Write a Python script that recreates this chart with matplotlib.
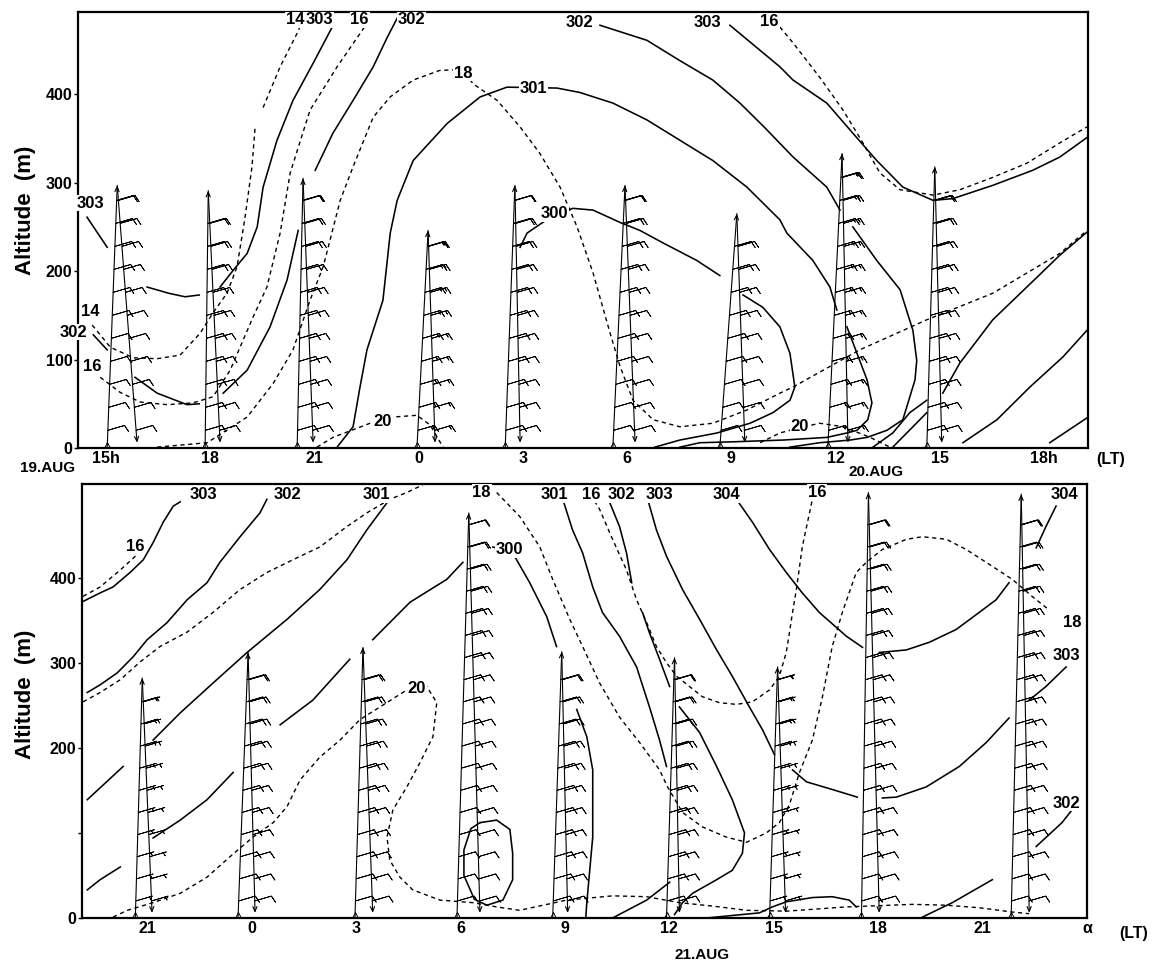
import numpy as np
import matplotlib.pyplot as plt

plt.rcParams['font.family'] = ['Liberation Sans', 'DejaVu Sans']
plt.rcParams['font.weight'] = 'bold'

# ---------------- upper panel : 19-20 Aug ----------------
top_ticks = [15, 18, 21, 24, 27, 30, 33, 36, 39, 42]
top_ticklabels = ['15h', '18', '21', '0', '3', '6', '9', '12', '15', '18h']

# potential temperature (K), solid
t303 = [[(14.45, 261), (15.03, 227)],
        [(16.18, 182), (16.80, 175), (17.27, 171), (17.68, 173)],
        [(18.28, 182), (18.66, 201), (19.06, 220), (19.35, 250), (19.52, 295), (19.92, 348),
         (20.38, 393), (20.96, 435), (21.51, 476)]]
t302 = [[(14.63, 128), (15.03, 111)],
        [(15.83, 80), (16.47, 62), (17.33, 49), (17.68, 50)],
        [(18.37, 62), (19.06, 88), (19.72, 137), (20.21, 190), (20.53, 246)],
        [(21.02, 314), (21.53, 356), (22.11, 393), (22.69, 431), (23.09, 464), (23.46, 492)]]
t301 = [[(21.65, 1), (22.11, 24), (22.31, 69), (22.51, 111), (22.97, 167), (23.18, 243), (23.38, 280),
         (23.84, 325), (24.82, 367), (25.77, 397), (26.54, 408), (27.98, 407), (28.64, 402), (29.59, 390),
         (30.57, 371), (31.52, 348), (32.47, 325), (33.45, 295), (34.40, 258), (34.60, 243), (35.35, 212),
         (35.84, 182), (36.04, 156)],
        [(36.33, 137), (36.62, 107), (36.91, 77), (37.05, 51), (36.93, 32), (36.62, 20), (36.33, 17),
         (35.75, 12), (34.49, 9), (33.04, 7), (32.10, 6), (31.52, 1)]]
t300 = [[(26.92, 227), (27.12, 243), (27.87, 263), (28.44, 271), (29.02, 269), (29.80, 255), (30.37, 246),
         (31.03, 232), (32.01, 212), (32.67, 195)],
        [(33.34, 173), (33.91, 159), (34.40, 137), (34.69, 107), (34.83, 69), (34.69, 54), (34.20, 40),
         (33.54, 28), (32.59, 17), (31.52, 9), (30.80, 1)]]
t302b = [[(29.22, 478), (30.57, 461), (31.52, 438), (32.47, 416), (33.25, 390), (33.97, 362), (34.78, 329),
          (35.75, 295), (36.13, 269)],
         [(36.50, 250), (37.19, 212), (37.86, 179), (38.23, 133), (38.34, 99), (38.29, 77), (37.94, 32),
          (37.48, 20), (36.91, 12), (36.42, 9), (35.55, 6), (34.69, 1)]]
t303b = [[(32.96, 478), (34.40, 431), (34.78, 416), (35.75, 390), (36.50, 356), (37.19, 325), (37.94, 295),
          (38.81, 280), (39.38, 282), (40.53, 297), (41.68, 314), (42.46, 329), (43.24, 351)]]
t_warm = [[(37.65, 1), (38.23, 24), (38.63, 40)],
          [(37.08, 1), (37.65, 17), (38.14, 40), (38.63, 54)],
          [(39.09, 62), (39.58, 96), (40.53, 145), (41.51, 182), (42.46, 218), (43.24, 244)],
          [(39.67, 6), (40.65, 32), (41.60, 69), (42.55, 103), (43.24, 133)],
          [(42.17, 6), (43.24, 34)]]

# specific humidity (g/kg), dashed
t14 = [[(14.60, 139), (15.12, 114), (15.78, 102), (16.47, 101), (17.13, 105), (17.71, 130), (18.08, 153),
        (18.48, 175), (18.77, 205), (19.00, 261), (19.20, 318), (19.29, 363)],
       [(19.52, 385), (20.01, 431), (20.50, 469), (20.67, 484)]]
t16 = [[(14.83, 80), (15.40, 63), (15.98, 52), (16.76, 49), (17.50, 51), (18.08, 58), (18.57, 88),
        (19.23, 148), (19.63, 182), (20.01, 243), (20.30, 311), (20.87, 382), (21.65, 431), (22.51, 480)]]
t16b = [[(34.40, 476), (34.78, 458), (35.55, 419), (36.22, 382), (36.79, 345), (37.28, 311), (37.86, 292),
         (38.81, 286), (39.58, 292), (40.53, 306), (41.51, 322), (42.46, 345), (43.24, 363)]]
t18 = [[(16.47, 1), (17.91, 6), (19.06, 35), (19.81, 73), (20.38, 111), (20.87, 167), (21.25, 205),
        (21.74, 280), (22.11, 318), (22.69, 374), (23.18, 397), (23.84, 416), (24.61, 427), (25.28, 428),
        (25.56, 412), (26.26, 393), (26.92, 363), (27.49, 333), (28.07, 295), (28.56, 250), (29.02, 198),
        (29.51, 130), (29.80, 92), (30.17, 54), (30.75, 32), (31.52, 24), (32.47, 28), (33.45, 43),
        (34.40, 62), (34.78, 69), (36.70, 111), (38.63, 145), (40.53, 175), (42.46, 220), (43.24, 246)]]
t20 = [[(21.07, 1), (21.53, 12), (22.60, 28), (22.97, 31), (23.26, 35), (23.95, 37), (24.33, 26), (24.70, 1)],
       [(33.83, 6), (34.40, 17), (34.98, 23), (35.55, 28), (36.22, 24), (37.00, 12), (37.57, 1)]]

top_labels = [('303', 14.54, 277), ('14', 14.54, 154), ('302', 14.05, 131), ('16', 14.60, 92),
              ('14', 20.45, 484), ('303', 21.15, 484), ('16', 22.30, 484), ('302', 23.80, 484),
              ('18', 25.28, 424), ('301', 27.30, 407), ('300', 27.90, 265), ('302', 28.64, 481),
              ('303', 32.30, 481), ('16', 34.10, 482), ('20', 22.97, 30), ('20', 34.98, 24)]

top_tower_base = [15.03, 17.85, 20.50, 23.95, 26.49, 29.59, 32.67, 35.78, 38.63]
top_tower_peak = [15.32, 17.94, 20.67, 24.27, 26.77, 29.94, 33.16, 36.19, 38.86]
top_tower_foot = [15.89, 18.28, 20.96, 24.47, 26.92, 30.23, 33.39, 36.36, 39.06]
top_tower_top = [297, 291, 305, 246, 297, 297, 265, 333, 318]
top_wind = [10, 10, 10, 15, 10, 10, 10, 15, 10]

# ---------------- lower panel : 20-21 Aug ----------------
bot_ticks = [21, 24, 27, 30, 33, 36, 39, 42, 45, 48]
bot_ticklabels = ['21', '0', '3', '6', '9', '12', '15', '18', '21', 'α']

b303 = [[(19.16, 372), (19.65, 382), (20.02, 389), (20.51, 406), (20.89, 421), (21.17, 441), (21.46, 465),
         (21.75, 484), (21.95, 489)]]
b302 = [[(19.28, 265), (19.65, 274), (20.14, 288), (20.60, 307), (21.00, 327), (21.57, 347), (22.15, 374),
         (22.72, 394), (23.09, 418), (23.67, 448), (24.24, 476), (24.44, 492)]]
b301 = [[(19.28, 139), (20.31, 178)],
        [(21.17, 209), (21.95, 241), (22.89, 276), (23.87, 312), (25.02, 351), (25.96, 386), (26.74, 421),
         (27.31, 456), (27.89, 488)]]
b300 = [[(19.28, 33), (19.65, 45), (20.23, 60)],
        [(21.17, 94), (21.95, 115), (22.72, 139), (23.47, 171)],
        [(24.82, 227), (25.76, 256), (26.82, 304)],
        [(27.48, 327), (28.55, 371), (29.61, 398), (30.07, 418)],
        [(30.93, 436), (31.50, 429), (31.99, 394), (32.48, 354), (32.76, 319)],
        [(33.34, 245), (33.63, 213), (33.80, 174), (33.80, 95), (33.63, 18), (33.60, 0)]]
b_loop = [[(30.56, 112), (31.04, 115), (31.42, 104), (31.50, 76), (31.50, 45), (31.22, 21), (30.76, 15),
           (30.40, 22), (30.10, 50), (30.10, 80), (30.30, 105), (30.56, 112)]]
b301b = [[(32.94, 492), (33.22, 456), (33.51, 429), (33.80, 389), (34.08, 359), (34.57, 331), (35.06, 295),
          (35.43, 248), (35.72, 209), (35.92, 178)],
         [(34.37, 0), (35.35, 21), (36.01, 42)]]
b302b = [[(34.29, 488), (34.57, 460), (34.77, 429), (34.92, 394)],
         [(35.23, 359), (35.43, 335), (35.72, 304), (36.01, 272)],
         [(36.29, 248), (36.87, 218), (37.36, 178), (37.81, 139), (38.16, 100), (38.10, 76), (37.81, 56),
          (37.36, 45), (36.67, 29), (36.38, 18), (36.15, 4)]]
b303b = [[(35.38, 492), (35.63, 456), (35.92, 425), (36.38, 386), (36.87, 351), (37.36, 315), (37.81, 284),
          (38.30, 248), (38.68, 221), (39.02, 192)],
         [(39.54, 174), (39.94, 160), (40.68, 151), (41.40, 142)],
         [(42.12, 141), (42.52, 142), (43.38, 154), (44.33, 178), (45.10, 206), (45.76, 235)],
         [(46.34, 256), (46.82, 272), (47.40, 295)]]
b304 = [[(37.93, 492), (38.39, 465), (38.88, 433), (39.36, 406), (39.82, 382), (40.31, 359), (41.09, 331),
         (41.55, 318)],
        [(42.03, 312), (42.81, 315), (43.47, 324), (44.24, 339), (44.90, 359), (45.39, 374), (45.76, 394)],
        [(46.54, 435), (46.82, 460), (47.11, 484)]]
b302c = [[(43.27, 1), (44.13, 18), (45.28, 45)],
         [(46.54, 84), (47.28, 112), (47.57, 127)]]
b_ground = [[(37.07, 0), (38.59, 6), (38.96, 13), (39.36, 19), (40.11, 24), (40.68, 25), (41.17, 21),
             (41.37, 13)]]

b16 = [[(19.16, 378), (19.65, 389), (20.23, 409), (20.71, 427)],
       [(33.85, 490), (34.00, 480), (34.37, 445), (34.77, 409), (35.06, 374), (35.35, 347), (35.63, 319),
        (35.92, 300), (36.21, 284), (36.58, 272), (36.95, 260), (37.44, 253), (37.93, 251), (38.39, 254),
        (38.88, 268), (39.16, 284), (39.36, 312), (39.45, 335), (39.54, 359), (39.65, 386), (39.82, 436),
        (40.11, 492)]]
b18 = [[(19.16, 254), (19.65, 265), (20.23, 280), (20.80, 301), (21.37, 319), (22.15, 336), (22.89, 359),
        (23.67, 386), (24.44, 406), (25.19, 421), (25.96, 436), (26.74, 460), (27.31, 476), (27.97, 492),
        (28.46, 500), (28.92, 509)],
       [(31.04, 500), (31.70, 472), (32.28, 436), (32.65, 398), (33.14, 351), (33.51, 319), (34.00, 276),
        (34.57, 236), (35.15, 206), (35.72, 174), (35.95, 154), (36.38, 124), (36.95, 107), (37.64, 95),
        (38.22, 89), (38.79, 100), (39.16, 112), (39.45, 133), (39.74, 171), (40.11, 209), (40.40, 260),
        (40.68, 319), (40.97, 359), (41.37, 406), (41.66, 418), (42.12, 433), (42.81, 445), (43.27, 448),
        (43.96, 445), (44.53, 433), (45.10, 418), (45.85, 398), (46.42, 378), (46.91, 362)]]
b20 = [[(20.02, 1), (20.43, 9), (21.17, 18), (21.95, 29), (22.72, 48), (23.38, 72), (24.04, 95),
        (24.62, 112), (25.02, 131), (25.39, 162), (25.96, 189), (26.54, 209), (27.11, 233), (27.69, 248),
        (28.46, 268), (29.03, 272), (29.32, 253), (29.21, 213), (28.83, 182), (28.46, 154), (28.06, 127),
        (27.89, 95), (27.97, 68), (28.26, 48), (28.63, 33), (29.41, 21), (30.35, 18), (31.04, 13),
        (31.70, 9), (33.05, 21), (34.37, 26), (35.35, 25), (36.29, 18), (37.24, 14), (38.22, 9),
        (39.36, 8), (41.09, 13), (42.98, 16), (43.96, 15), (44.90, 12), (45.85, 7), (46.34, 5)]]

bot_labels = [('303', 22.61, 498), ('302', 25.02, 498), ('301', 27.60, 498), ('16', 20.66, 437),
              ('18', 30.61, 500), ('300', 31.42, 433), ('20', 28.75, 270), ('301', 32.71, 498),
              ('16', 33.77, 498), ('302', 34.63, 498), ('303', 35.72, 498), ('304', 37.64, 498),
              ('16', 40.25, 500), ('304', 47.34, 498), ('18', 47.57, 347), ('303', 47.40, 309),
              ('302', 47.40, 135)]

bot_tower_base = [20.66, 23.61, 26.97, 29.90, 32.65, 35.92, 38.88, 41.52, 45.82]
bot_tower_peak = [20.86, 23.90, 27.20, 30.24, 32.91, 36.15, 39.11, 41.72, 46.11]
bot_tower_foot = [21.14, 24.10, 27.48, 30.56, 33.08, 36.29, 39.34, 42.03, 46.34]
bot_tower_top = [282, 312, 318, 476, 313, 306, 295, 500, 498]
bot_wind = [5, 10, 10, 10, 10, 10, 5, 10, 10]


def draw_lines(ax, groups, dashed):
    for seg in groups:
        xy = np.array(seg)
        if dashed:
            ax.plot(xy[:, 0], xy[:, 1], color='k', lw=1.0, dashes=(3, 2.6))
        else:
            ax.plot(xy[:, 0], xy[:, 1], color='k', lw=1.15)


def draw_tower(ax, x0, xp, xf, top, speed):
    ax.annotate('', xy=(xp, top), xytext=(x0, 0),
                arrowprops=dict(arrowstyle='->,head_length=0.35,head_width=0.15',
                                lw=0.8, color='k', shrinkA=0, shrinkB=0))
    ax.annotate('', xy=(xf, 6), xytext=(xp, top),
                arrowprops=dict(arrowstyle='->,head_length=0.35,head_width=0.15',
                                lw=0.8, color='k', shrinkA=0, shrinkB=0))
    ax.plot(x0, 3, marker='^', ms=5, mfc='none', mec='k', mew=0.7, clip_on=False)
    lev = np.arange(20, top - 12, 26.0)
    xl = x0 + (xp - x0) * lev / top
    xr = xf + (xp - xf) * (lev - 6) / (top - 6)
    u = np.full(lev.shape, -0.96 * speed)
    v = np.full(lev.shape, -0.28 * speed)
    ax.barbs(xl, lev, u, v, length=5.0, lw=0.6, color='k', pivot='tip')
    ax.barbs(xr, lev, u, v, length=5.0, lw=0.6, color='k', pivot='tip')


def setup(ax, xlim, ylim, ticks, labels, yticklabels):
    ax.set_xlim(*xlim)
    ax.set_ylim(*ylim)
    ax.set_xticks(ticks)
    ax.set_xticklabels(labels, fontsize=11.5, fontweight='bold')
    ax.tick_params(axis='x', length=0, pad=2)
    ax.set_yticks([0, 100, 200, 300, 400])
    ax.set_yticklabels(yticklabels, fontsize=11.5, fontweight='bold')
    ax.tick_params(axis='y', length=3, width=1, pad=1)
    for s in ax.spines.values():
        s.set_linewidth(1.6)


fig = plt.figure(figsize=(11.59, 9.67), dpi=100)
ax1 = fig.add_axes([0.0673, 0.5367, 0.8714, 0.4509])
ax2 = fig.add_axes([0.0708, 0.0507, 0.8671, 0.4488])

setup(ax1, (14.19, 43.27), (0, 493), top_ticks, top_ticklabels, ['0', '100', '200', '300', '400'])
setup(ax2, (19.13, 47.97), (0, 510), bot_ticks, bot_ticklabels, ['0', '', '200', '300', '400'])

for g in [t303, t302, t301, t300, t302b, t303b, t_warm]:
    draw_lines(ax1, g, False)
for g in [t14, t16, t16b, t18, t20]:
    draw_lines(ax1, g, True)
for g in [b303, b302, b301, b300, b_loop, b301b, b302b, b303b, b304, b302c, b_ground]:
    draw_lines(ax2, g, False)
for g in [b16, b18, b20]:
    draw_lines(ax2, g, True)

for i in range(len(top_tower_base)):
    draw_tower(ax1, top_tower_base[i], top_tower_peak[i], top_tower_foot[i], top_tower_top[i], top_wind[i])
for i in range(len(bot_tower_base)):
    draw_tower(ax2, bot_tower_base[i], bot_tower_peak[i], bot_tower_foot[i], bot_tower_top[i], bot_wind[i])

for ax, labs in [(ax1, top_labels), (ax2, bot_labels)]:
    for txt, x, y in labs:
        ax.text(x, y, txt, fontsize=12, fontweight='bold', ha='center', va='center', clip_on=False,
                bbox=dict(boxstyle='square,pad=0.05', fc='white', ec='none'), zorder=5)

fig.text(0.022, 0.783, 'Altitude  (m)', rotation=90, fontsize=16, fontweight='bold', ha='center', va='center')
fig.text(0.022, 0.282, 'Altitude  (m)', rotation=90, fontsize=16, fontweight='bold', ha='center', va='center')
fig.text(0.041, 0.516, '19.AUG', fontsize=11, fontweight='bold', ha='center', va='center')
fig.text(0.756, 0.512, '20.AUG', fontsize=11, fontweight='bold', ha='center', va='center')
fig.text(0.606, 0.012, '21.AUG', fontsize=11, fontweight='bold', ha='center', va='center')
fig.text(0.958, 0.525, '(LT)', fontsize=11.5, fontweight='bold', ha='center', va='center')
fig.text(0.978, 0.035, '(LT)', fontsize=11.5, fontweight='bold', ha='center', va='center')

fig.savefig('out.png', dpi=100)
